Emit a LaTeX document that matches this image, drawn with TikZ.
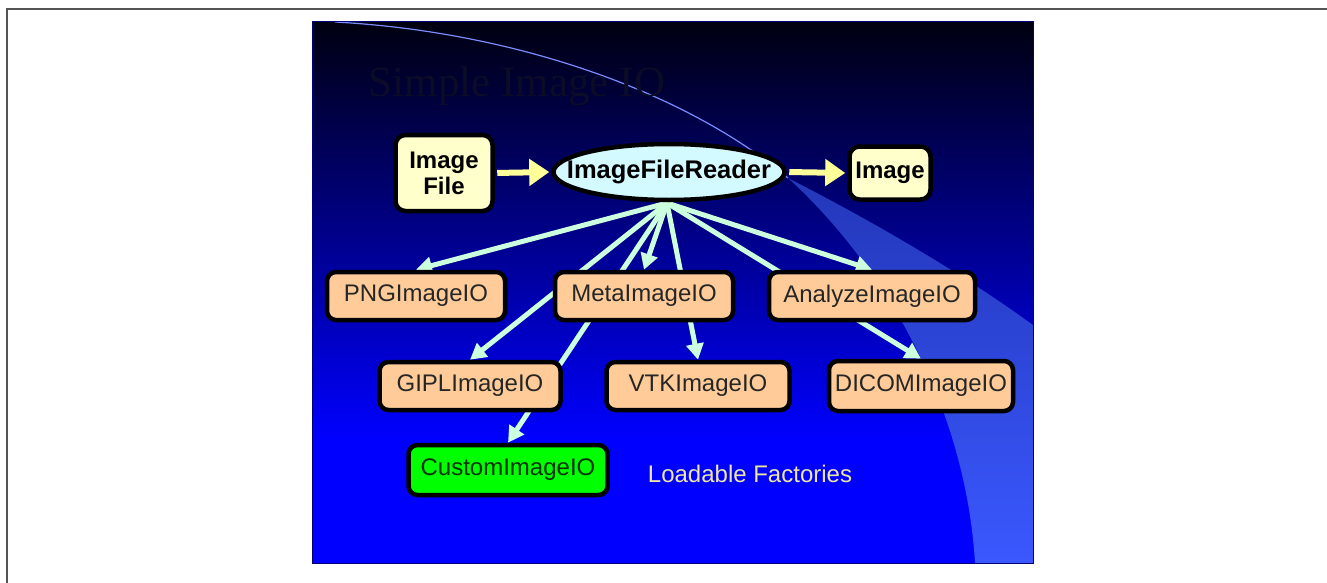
\documentclass[tikz,border=0pt]{standalone}
\usepackage{fontspec}
\usepackage{xcolor}
\setmainfont{Liberation Sans}
\newfontfamily\titlefont{Liberation Serif}
\usetikzlibrary{arrows.meta,shapes.geometric}

\pgfdeclarelayer{slide}
\pgfdeclarelayer{edges}
\pgfsetlayers{slide,edges,main}

\definecolor{framecol}{RGB}{85,85,85}
\definecolor{slidetop}{RGB}{0,0,16}
\definecolor{slideblue}{RGB}{0,0,255}
\definecolor{swooshtop}{RGB}{35,55,185}
\definecolor{swoosh}{RGB}{58,88,255}
\definecolor{arccol}{RGB}{120,140,255}
\definecolor{slideedge}{RGB}{0,0,120}
\definecolor{filefill}{RGB}{255,255,204}
\definecolor{readerfill}{RGB}{210,250,255}
\definecolor{iofill}{RGB}{255,204,153}
\definecolor{customfill}{RGB}{0,255,0}
\definecolor{customtext}{RGB}{0,50,0}
\definecolor{connline}{RGB}{204,255,221}
\definecolor{flowline}{RGB}{255,255,153}
\definecolor{titlecol}{RGB}{12,12,40}
\definecolor{notecol}{RGB}{238,230,165}

\tikzset{
  iobox/.style={draw=black, line width=4.5pt, rounded corners=9pt, fill=iofill,
    minimum height=48pt, inner xsep=2pt, text=black!85,
    font=\fontsize{24}{28}\selectfont},
  filebox/.style={draw=black, line width=4.5pt, rounded corners=10pt, fill=filefill,
    align=center, inner sep=2pt, font=\bfseries\fontsize{24}{26}\selectfont},
  readernode/.style={ellipse, draw=black, line width=4.5pt, fill=readerfill,
    minimum width=231pt, minimum height=56pt, inner sep=0pt},
  readertext/.style={font=\bfseries\fontsize{25.5}{28}\selectfont, inner sep=0pt},
  conn/.style={connline, line width=5pt, -{Triangle[length=16pt,width=17pt]}},
  flow/.style={flowline, line width=6pt, shorten <=2.5pt, shorten >=2pt,
    -{Triangle[length=20pt,width=26pt]}}
}

\begin{document}
\begin{tikzpicture}[x=1pt,y=-1pt]

\useasboundingbox (0,0) rectangle (1327,583);

% Page, frame and slide background
\begin{pgfonlayer}{slide}
\fill[white] (0,0) rectangle (1327,583);
\draw[framecol, line width=2pt] (7,583) -- (7,9) -- (1327,9);
\shade[top color=slidetop, bottom color=slideblue] (312,22) rectangle (1033,440);
\fill[slideblue] (312,439) rectangle (1033,563);
\shade[top color=swooshtop, bottom color=swoosh]
  (788,178) .. controls (880,262) and (965,400) .. (975,563)
  -- (1033,563) -- (1033,325)
  .. controls (950,265) and (860,215) .. cycle;
\draw[arccol, line width=1.2pt] (335,22) .. controls (520,32) and (690,95) .. (788,178);
\draw[slideedge, line width=1pt] (312,22) rectangle (1033,563);
\end{pgfonlayer}

% Title
\node[font=\titlefont\fontsize{43}{48}\selectfont, text=titlecol, anchor=base] (title) at (517,97) {Simple Image IO};

% Top row
\node[filebox, minimum width=97pt, minimum height=76pt] (file) at (444,173) {Image\\File};
\node[readernode] (reader) at (669,172) {};
\node[readertext] (readerlabel) at (reader) {ImageFileReader};
\node[filebox, minimum width=81pt, minimum height=53pt] (image) at (890,173) {Image};

% Factories
\node[iobox, minimum width=178pt] (png) at (416,296) {PNGImageIO};
\node[iobox, minimum width=178pt] (meta) at (644,296) {MetaImageIO};
\node[iobox, minimum width=206pt] (analyze) at (872,296) {AnalyzeImageIO};
\node[iobox, minimum width=181pt] (gipl) at (470,386) {GIPLImageIO};
\node[iobox, minimum width=183pt] (vtk) at (698,386) {VTKImageIO};
\node[iobox, minimum width=184pt, minimum height=50pt] (dicom) at (921,386) {DICOMImageIO};
\node[iobox, minimum width=199pt, minimum height=50pt, fill=customfill, text=customtext] (custom) at (508,470) {CustomImageIO};

\node[font=\fontsize{24}{28}\selectfont, text=notecol, anchor=base] (loadable) at (750,482) {Loadable Factories};

% Connectors
\coordinate (hub) at (667,203);
\begin{pgfonlayer}{edges}
\draw[conn] (hub) -- (png.north);
\draw[conn] (hub) -- (gipl.north);
\draw[conn] (hub) -- (custom.north);
\draw[conn] (hub) -- (meta.north);
\draw[conn] (hub) -- (vtk.north);
\draw[conn] (hub) -- (analyze.north);
\draw[conn] (hub) -- (dicom.north);
\end{pgfonlayer}

\draw[flow] (file.east) -- (reader.west);
\draw[flow] (reader.east) -- (image.west);

\end{tikzpicture}
\end{document}
